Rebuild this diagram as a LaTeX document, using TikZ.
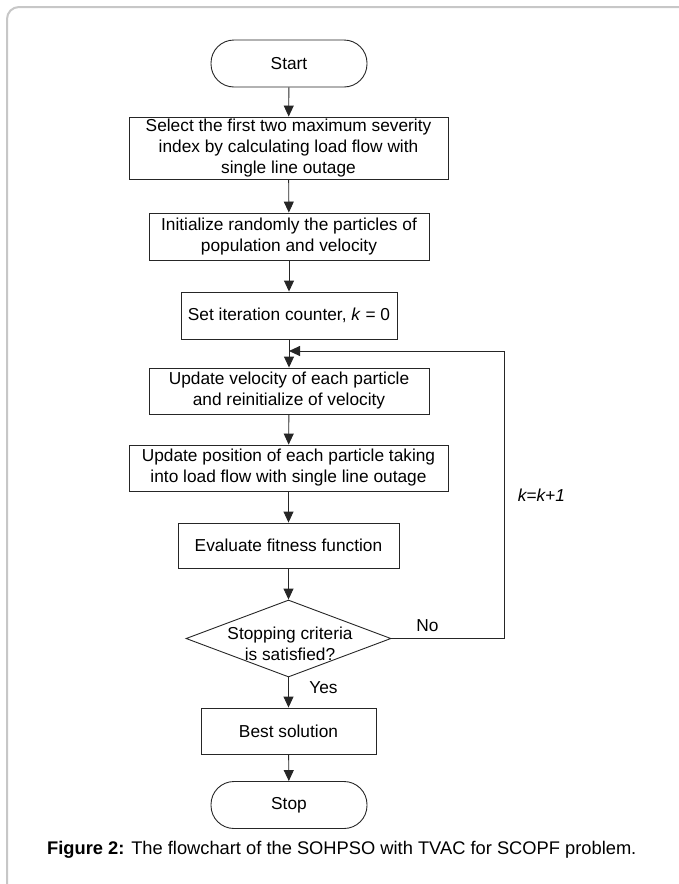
\documentclass[tikz,border=0pt]{standalone}
\usepackage{fontspec}
\setmainfont{Liberation Sans}
\usetikzlibrary{arrows.meta,shapes.geometric}
\begin{document}
\begin{tikzpicture}[x=1pt,y=-1pt,
  lbl/.style={font=\fontsize{17.3}{21}\selectfont},
  proc/.style={draw=black!85, line width=0.9pt, rectangle, inner sep=0pt, align=center, font=\fontsize{17.3}{21}\selectfont},
  term/.style={draw=black!85, line width=0.9pt, rectangle, rounded corners=23pt, minimum width=156pt, minimum height=47pt, inner sep=0pt, font=\fontsize{17.3}{21}\selectfont},
  decision/.style={draw=black!85, line width=0.9pt, diamond, inner sep=0pt, aspect=2.66, minimum width=205pt, minimum height=77pt},
  arr/.style={draw=black!85, line width=0.9pt, -{Triangle[length=11pt,width=10pt]}},
  conn/.style={draw=black!85, line width=0.9pt}
]
\useasboundingbox (0,0) rectangle (678,884);
\draw[black!22, line width=2pt, rounded corners=12pt] (7,900) -- (7,7) -- (700,7);

\node[term] (start) at (289,63.5) {Start};
\node[proc, minimum width=319pt, minimum height=62pt] (b1) at (288.5,148) {Select the first two maximum severity\\index by calculating load flow with\\single line outage};
\node[proc, minimum width=280pt, minimum height=47pt] (b2) at (289,236.5) {Initialize randomly the particles of\\population and velocity};
\node[proc, minimum width=216pt, minimum height=47pt] (b3) at (289,315.5) {Set iteration counter, \textit{k} = 0};
\node[proc, minimum width=280pt, minimum height=46pt] (b4) at (289,391) {Update velocity of each particle\\and reinitialize of velocity};
\node[proc, minimum width=319pt, minimum height=46pt] (b5) at (288.5,468) {Update position of each particle taking\\into load flow with single line outage};
\node[proc, minimum width=221pt, minimum height=45pt] (b6) at (288.5,545.5) {Evaluate fitness function};
\node[decision] (dec) at (288.5,638.5) {};
\node[lbl, align=center] (dectext) at (290,644) {Stopping criteria\\is satisfied?};
\node[proc, minimum width=175pt, minimum height=46pt] (best) at (288.5,731) {Best solution};
\node[term] (stop) at (289,805) {Stop};

\coordinate (join) at (289,351);
\coordinate (c1) at (504,638.5);
\coordinate (c2) at (504,351);

\draw[arr] (start) -- (b1);
\draw[arr] (b1) -- (b2);
\draw[arr] (b2) -- (b3);
\draw[arr] (b3) -- (b4);
\draw[arr] (b4) -- (b5);
\draw[arr] (b5) -- (b6);
\draw[arr] (b6) -- (dec);
\draw[arr] (dec.south) -- node[lbl, pos=0.35, anchor=west, xshift=17pt]{Yes} (best);
\draw[arr] (best) -- (stop);
\draw[conn] (dec.east) -- node[lbl, pos=0.32, anchor=south, yshift=3pt]{No} (c1)
  -- node[lbl, pos=0.5, anchor=west, xshift=10pt]{\textit{k=k+1}} (c2);
\draw[arr] (c2) -- (join);

\node[anchor=west, inner sep=0pt, font=\fontsize{18.3}{22}\selectfont] (cap) at (47,850) {\textbf{Figure 2:} The flowchart of the SOHPSO with TVAC for SCOPF problem.};
\end{tikzpicture}
\end{document}
